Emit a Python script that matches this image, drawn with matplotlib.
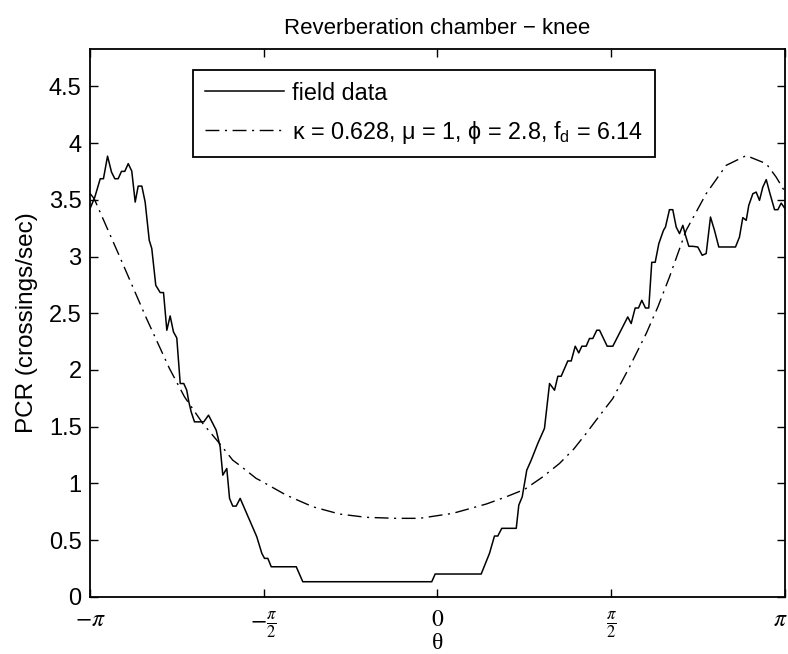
import numpy as np
import matplotlib
matplotlib.use("Agg")
import matplotlib.pyplot as plt
import matplotlib.transforms as mtransforms

plt.rcParams['font.family'] = ['Liberation Sans', 'DejaVu Sans']
plt.rcParams['mathtext.fontset'] = 'stix'

# Field data (theta in radians, PCR in crossings/sec)
field_theta = [-3.1416, -3.098, -3.049, -3.020, -2.983, -2.947, -2.917, -2.887, -2.857, -2.827,
               -2.796, -2.764, -2.733, -2.706, -2.673, -2.643, -2.606, -2.583, -2.547, -2.507,
               -2.477, -2.447, -2.417, -2.387, -2.357, -2.326, -2.294, -2.267, -2.248, -2.227,
               -2.197, -2.113, -2.070, -2.001, -1.965, -1.941, -1.905, -1.880, -1.851, -1.820,
               -1.784, -1.745, -1.634, -1.588, -1.564, -1.534, -1.503, -1.277, -1.218, -0.052,
               -0.021, 0.395, 0.470, 0.515, 0.545, 0.581, 0.712, 0.735, 0.766, 0.807,
               0.847, 0.907, 0.967, 1.013, 1.058, 1.088, 1.118, 1.178, 1.209, 1.245,
               1.277, 1.305, 1.344, 1.374, 1.404, 1.440, 1.465, 1.534, 1.585, 1.720,
               1.751, 1.787, 1.817, 1.847, 1.880, 1.910, 1.937, 1.968, 2.001, 2.043,
               2.061, 2.097, 2.127, 2.158, 2.188, 2.218, 2.242, 2.272, 2.308, 2.353,
               2.393, 2.429, 2.468, 2.504, 2.543, 2.694, 2.730, 2.760, 2.791, 2.814,
               2.851, 2.881, 2.911, 2.941, 2.972, 3.002, 3.047, 3.077, 3.107, 3.1416]
field_pcr = [3.422, 3.524, 3.686, 3.686, 3.885, 3.744, 3.686, 3.686, 3.751, 3.751,
             3.819, 3.753, 3.480, 3.621, 3.621, 3.480, 3.143, 3.070, 2.746, 2.682,
             2.682, 2.350, 2.476, 2.335, 2.282, 1.880, 1.880, 1.821, 1.718, 1.630,
             1.542, 1.542, 1.601, 1.469, 1.322, 1.072, 1.131, 0.867, 0.799, 0.799,
             0.867, 0.779, 0.529, 0.382, 0.338, 0.338, 0.264, 0.264, 0.132, 0.132,
             0.200, 0.200, 0.382, 0.535, 0.535, 0.603, 0.603, 0.808, 0.881, 1.116,
             1.204, 1.352, 1.484, 1.880, 1.821, 1.944, 1.944, 2.079, 2.079, 2.209,
             2.150, 2.209, 2.209, 2.277, 2.277, 2.350, 2.350, 2.209, 2.209, 2.467,
             2.409, 2.546, 2.546, 2.614, 2.546, 2.546, 2.949, 2.949, 3.114, 3.231,
             3.260, 3.413, 3.413, 3.260, 3.202, 3.275, 3.187, 3.090, 3.090, 3.084,
             3.011, 3.026, 3.348, 3.231, 3.084, 3.084, 3.172, 3.343, 3.319, 3.451,
             3.554, 3.568, 3.495, 3.612, 3.678, 3.568, 3.413, 3.413, 3.471, 3.422]

# Fitted model curve
fit_theta = [-3.1416, -3.104, -2.872, -2.637, -2.589, -2.423, -2.287, -2.122, -1.971, -1.851,
             -1.790, -1.639, -1.609, -1.368, -1.127, -0.886, -0.645, -0.373, -0.163, 0.138,
             0.440, 0.621, 0.787, 0.952, 1.103, 1.230, 1.344, 1.460, 1.585, 1.736, 1.887, 1.992,
             2.097, 2.248, 2.429, 2.610, 2.791, 2.972, 3.062, 3.1416]
fit_pcr = [3.557, 3.510, 2.996, 2.467, 2.365, 2.012, 1.762, 1.528, 1.352, 1.204,
           1.160, 1.043, 1.028, 0.896, 0.793, 0.729, 0.700, 0.691, 0.691, 0.735,
           0.817, 0.881, 0.946, 1.057, 1.175, 1.300, 1.440, 1.590, 1.748, 2.026, 2.321, 2.555,
           2.819, 3.231, 3.554, 3.804, 3.890, 3.819, 3.700, 3.570]

xtick_vals = [-np.pi, -np.pi / 2, 0, np.pi / 2, np.pi]
xtick_labels = [r'$-\pi$', r'$-\frac{\pi}{2}$', r'$0$', r'$\frac{\pi}{2}$', r'$\pi$']
ytick_vals = [0, 0.5, 1, 1.5, 2, 2.5, 3, 3.5, 4, 4.5]
ytick_labels = ['0', '0.5', '1', '1.5', '2', '2.5', '3', '3.5', '4', '4.5']

fig = plt.figure(figsize=(7.88, 6.54), dpi=100)
ax = fig.add_axes([90 / 788, 1 - 596.7 / 654, 695 / 788, 547.7 / 654])

ax.plot(field_theta, field_pcr, color='black', lw=1.1, label='field data')
ax.plot(fit_theta, fit_pcr, color='black', lw=1.0, linestyle=(0, (10, 4, 1.5, 4)),
        label='κ = 0.628, μ = 1, ϕ = 2.8, f$\\mathregular{_d}$ = 6.14')

ax.set_xlim(-np.pi, np.pi)
ax.set_ylim(0, 4.83)
ax.set_xticks(xtick_vals)
ax.set_xticklabels(xtick_labels, fontsize=17)
ax.set_yticks(ytick_vals)
ax.set_yticklabels(ytick_labels, fontsize=17)
ax.tick_params(direction='in', top=True, right=True, length=6, width=1.0)
ax.tick_params(axis='x', pad=9)
ax.tick_params(axis='y', pad=6)
for s in ax.spines.values():
    s.set_linewidth(1.3)

# keep the last tick label (pi) inside the canvas
last_lbl = ax.get_xticklabels()[-1]
last_lbl.set_transform(last_lbl.get_transform() +
                       mtransforms.ScaledTranslation(-5 / 100, 0, fig.dpi_scale_trans))

ax.set_xlabel('θ', fontsize=17, family=['Liberation Serif', 'DejaVu Serif'], labelpad=-5)
ax.set_ylabel('PCR (crossings/sec)', fontsize=17.5, labelpad=8)
ax.set_title('Reverberation chamber − knee', fontsize=16, pad=11)

leg = ax.legend(loc='upper left', bbox_to_anchor=((193 - 90) / 695, (596.7 - 70) / 547.7),
                borderaxespad=0, fontsize=16.8, fancybox=False, handlelength=3.4,
                handletextpad=0.35, borderpad=0.5, labelspacing=0.6, framealpha=1)
leg.get_frame().set_edgecolor('black')
leg.get_frame().set_linewidth(1.3)

fig.savefig('out.png', dpi=100)
